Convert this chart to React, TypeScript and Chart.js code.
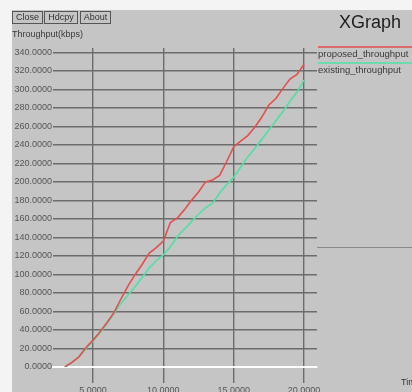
import React, { useEffect, useRef } from "react";
import { Chart, registerables } from "chart.js";

Chart.register(...registerables);

// ---- data ----
const times = [3.0, 3.5, 4.0, 4.5, 5.0, 5.5, 6.0, 6.5, 7.0, 7.5, 8.0, 8.5, 9.0, 9.5, 10.0, 10.5, 11.0, 11.5, 12.0, 12.5, 13.0, 13.5, 14.0, 14.5, 15.0, 15.5, 16.0, 16.5, 17.0, 17.5, 18.0, 18.5, 19.0, 19.5, 20.0];
const proposedThroughput = [0, 5, 11, 21, 29, 38, 48, 59, 74, 88, 100, 111, 123, 129, 136, 156, 161, 170, 180, 189, 200, 202, 207, 222, 238, 244, 250, 259, 270, 283, 290, 301, 311, 316, 327];
const existingThroughput = [0, 5, 11, 20, 28, 37, 47, 58, 69, 78, 87, 97, 107, 115, 121, 130, 141, 149, 157, 165, 172, 177, 188, 197, 205, 216, 227, 236, 246, 256, 266, 276, 287, 297, 310];
const seriesNames = ["proposed_throughput", "existing_throughput"];
const seriesColors = ["#e2504e", "#4fe0a2"];
const yTickValues = [0, 20, 40, 60, 80, 100, 120, 140, 160, 180, 200, 220, 240, 260, 280, 300, 320, 340];
const xTickValues = [5, 10, 15, 20];
const buttonLabels = ["Close", "Hdcpy", "About"];
const yAxisTitle = "Throughput(kbps)";
const xAxisTitle = "Time";
const windowTitle = "XGraph";

const FONT = "'Liberation Sans', Arial, sans-serif";

const decorPlugin = {
  id: "xgraphDecor",
  beforeDraw(chart: any) {
    const ctx = chart.ctx;
    ctx.save();
    ctx.fillStyle = "#c5c5c5";
    ctx.fillRect(0, 0, chart.width, chart.height);
    ctx.fillStyle = "#f4f4f4";
    ctx.fillRect(0, 0, chart.width, 10);
    ctx.fillRect(0, 0, 12, chart.height);
    ctx.restore();
  },
  afterDraw(chart: any) {
    const ctx = chart.ctx;
    const area = chart.chartArea;
    ctx.save();
    // buttons
    ctx.font = `9px ${FONT}`;
    ctx.textBaseline = "middle";
    const boxes = [
      [12, 30],
      [44, 33],
      [80, 30],
    ];
    buttonLabels.forEach((lbl, i) => {
      const [bx, w] = boxes[i];
      ctx.strokeStyle = "#555";
      ctx.lineWidth = 1;
      ctx.strokeRect(bx + 0.5, 11.5, w, 12);
      ctx.fillStyle = "#333";
      ctx.textAlign = "center";
      ctx.fillText(lbl, bx + w / 2 + 0.5, 18);
    });
    ctx.textAlign = "left";
    // y-axis title
    ctx.fillStyle = "#3a3a3a";
    ctx.font = `9px ${FONT}`;
    ctx.fillText(yAxisTitle, 12, 35);
    // window title
    ctx.fillStyle = "#1e1e1e";
    ctx.font = `18px ${FONT}`;
    ctx.fillText(windowTitle, 339, 23);
    // legend
    ctx.font = `9.5px ${FONT}`;
    chart.data.datasets.forEach((ds: any, i: number) => {
      const ly = 47 + i * 16;
      ctx.strokeStyle = ds.borderColor;
      ctx.lineWidth = 1.5;
      ctx.beginPath();
      ctx.moveTo(area.right + 1, ly);
      ctx.lineTo(chart.width, ly);
      ctx.stroke();
      ctx.fillStyle = "#3a3a3a";
      ctx.fillText(ds.label, area.right + 1, ly + 7);
    });
    // divider on the right
    ctx.strokeStyle = "#8a8a8a";
    ctx.lineWidth = 1;
    ctx.beginPath();
    ctx.moveTo(area.right, 247.5);
    ctx.lineTo(chart.width, 247.5);
    ctx.stroke();
    // x-axis title (cut by the window edge)
    ctx.fillStyle = "#333";
    ctx.font = `9px ${FONT}`;
    ctx.fillText(xAxisTitle, 401, 383);
    ctx.restore();
  },
};

export default function App() {
  const canvasRef = useRef<HTMLCanvasElement | null>(null);

  useEffect(() => {
    if (!canvasRef.current) return;
    const chart = new Chart(canvasRef.current, {
      type: "line",
      data: {
        datasets: [
          {
            label: seriesNames[0],
            data: times.map((t, i) => ({ x: t, y: proposedThroughput[i] })),
            borderColor: seriesColors[0],
            borderWidth: 1.6,
            pointRadius: 0,
            tension: 0,
          },
          {
            label: seriesNames[1],
            data: times.map((t, i) => ({ x: t, y: existingThroughput[i] })),
            borderColor: seriesColors[1],
            borderWidth: 1.6,
            pointRadius: 0,
            tension: 0,
          },
        ],
      },
      options: {
        responsive: false,
        animation: false,
        devicePixelRatio: 1,
        layout: { padding: { top: 48, right: 95, left: 0, bottom: 0 } },
        plugins: {
          legend: { display: false },
          tooltip: { enabled: false },
        },
        scales: {
          x: {
            type: "linear",
            min: 2.156,
            max: 20.92,
            afterBuildTicks: (scale: any) => {
              scale.ticks = xTickValues.map((v) => ({ value: v }));
            },
            afterFit: (scale: any) => {
              scale.height = 25;
            },
            grid: { color: "#6c6c6c", lineWidth: 1.4, tickLength: 16, drawTicks: true },
            border: { display: true, color: "#ffffff", width: 2 },
            ticks: {
              color: "#555",
              font: { family: FONT, size: 9 },
              padding: 2,
              maxRotation: 0,
              callback: (v: any) => Number(v).toFixed(4),
            },
          },
          y: {
            type: "linear",
            min: 0,
            max: 344.6,
            afterBuildTicks: (scale: any) => {
              scale.ticks = yTickValues.map((v) => ({ value: v }));
            },
            afterFit: (scale: any) => {
              scale.width = 53;
            },
            grid: { color: "#6c6c6c", lineWidth: 1.4, drawTicks: false },
            border: { display: false },
            ticks: {
              color: "#555",
              font: { family: FONT, size: 9 },
              padding: 1,
              callback: (v: any) => Number(v).toFixed(4),
            },
          },
        },
      },
      plugins: [decorPlugin],
    });
    return () => chart.destroy();
  }, []);

  return (
    <div style={{ position: "fixed", left: 0, top: 0, width: 412, height: 392, overflow: "hidden" }}>
      <canvas ref={canvasRef} width={412} height={392} style={{ display: "block" }} />
    </div>
  );
}
